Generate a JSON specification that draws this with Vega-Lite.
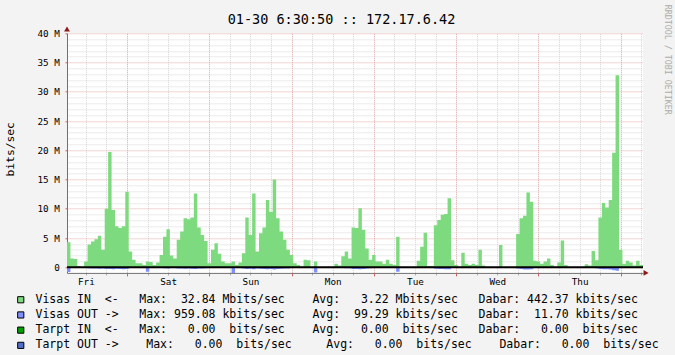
{
  "$schema": "https://vega.github.io/schema/vega-lite/v6.json",
  "width": 576,
  "height": 239.6,
  "autosize": {"type": "none"},
  "padding": {"left": 67, "top": 33.3, "right": 32, "bottom": 82.1},
  "background": "#F3F3F3",
  "view": {"fill": "#FFFFFF", "stroke": null},
  "config": {
    "font": "DejaVu Sans Mono",
    "axis": {"labelFont": "DejaVu Sans Mono", "labelFontSize": 9.3, "labelColor": "#000000", "titleFont": "DejaVu Sans Mono", "titleFontWeight": "normal", "titleColor": "#000000", "labelFlush": false}
  },
  "datasets": {
    "traffic": [
      {"t":6.5,"in":4.3,"out":-0.8},{"t":7.5,"in":1.5,"out":-0.02},{"t":8.5,"in":1.4,"out":-0.02},{"t":9.5,"in":0.2,"out":-0.02},
      {"t":10.5,"in":0.05,"out":-0.02},{"t":11.5,"in":1.0,"out":-0.02},{"t":12.5,"in":3.9,"out":-0.15},{"t":13.5,"in":4.4,"out":-0.2},
      {"t":14.5,"in":4.8,"out":-0.2},{"t":15.5,"in":5.4,"out":-0.25},{"t":16.5,"in":3.0,"out":-0.2},{"t":17.5,"in":10.0,"out":-0.3},
      {"t":18.5,"in":19.7,"out":-0.3},{"t":19.5,"in":9.8,"out":-0.35},{"t":20.5,"in":7.0,"out":-0.25},{"t":21.5,"in":6.7,"out":-0.3},
      {"t":22.5,"in":7.0,"out":-0.35},{"t":23.5,"in":12.9,"out":-0.3},{"t":24.5,"in":2.7,"out":-0.05},{"t":25.5,"in":1.3,"out":-0.05},
      {"t":26.5,"in":0.7,"out":-0.05},{"t":27.5,"in":0.7,"out":-0.05},{"t":28.5,"in":0.4,"out":-0.05},{"t":29.5,"in":1.0,"out":-0.75},
      {"t":30.5,"in":0.9,"out":-0.03},{"t":31.5,"in":0.4,"out":-0.03},{"t":32.5,"in":0.8,"out":-0.03},{"t":33.5,"in":2.1,"out":-0.03},
      {"t":34.5,"in":5.2,"out":-0.15},{"t":35.5,"in":6.5,"out":-0.2},{"t":36.5,"in":2.0,"out":-0.1},{"t":37.5,"in":1.5,"out":-0.1},
      {"t":38.5,"in":4.7,"out":-0.2},{"t":39.5,"in":6.1,"out":-0.2},{"t":40.5,"in":8.4,"out":-0.25},{"t":41.5,"in":8.2,"out":-0.2},
      {"t":42.5,"in":8.5,"out":-0.25},{"t":43.5,"in":12.6,"out":-0.3},{"t":44.5,"in":6.8,"out":-0.2},{"t":45.5,"in":5.5,"out":-0.2},
      {"t":46.5,"in":4.5,"out":-0.15},{"t":47.5,"in":0.7,"out":-0.03},{"t":48.5,"in":3.0,"out":-0.03},{"t":49.5,"in":4.1,"out":-0.03},
      {"t":50.5,"in":2.3,"out":-0.03},{"t":51.5,"in":1.0,"out":-0.03},{"t":52.5,"in":0.7,"out":-0.03},{"t":53.5,"in":0.7,"out":-0.03},
      {"t":54.5,"in":1.0,"out":-0.96},{"t":55.5,"in":0.4,"out":-0.03},{"t":56.5,"in":0.8,"out":-0.03},{"t":57.5,"in":2.4,"out":-0.2},
      {"t":58.5,"in":8.5,"out":-0.3},{"t":59.5,"in":5.5,"out":-0.25},{"t":60.5,"in":12.6,"out":-0.35},{"t":61.5,"in":2.7,"out":-0.2},
      {"t":62.5,"in":5.8,"out":-0.25},{"t":63.5,"in":6.8,"out":-0.3},{"t":64.5,"in":11.5,"out":-0.35},{"t":65.5,"in":9.5,"out":-0.3},
      {"t":66.5,"in":15.0,"out":-0.4},{"t":67.5,"in":8.4,"out":-0.3},{"t":68.5,"in":6.1,"out":-0.25},{"t":69.5,"in":4.7,"out":-0.2},
      {"t":70.5,"in":3.0,"out":-0.2},{"t":71.5,"in":2.1,"out":-0.04},{"t":72.5,"in":0.7,"out":-0.04},{"t":73.5,"in":0.4,"out":-0.04},
      {"t":74.5,"in":0.1,"out":-0.04},{"t":75.5,"in":1.3,"out":-0.04},{"t":76.5,"in":1.2,"out":-0.04},{"t":77.5,"in":0.1,"out":-0.04},
      {"t":78.5,"in":1.0,"out":-0.9},{"t":79.5,"in":0.05,"out":-0.02},{"t":80.5,"in":0,"out":-0.02},{"t":81.5,"in":0,"out":-0.02},
      {"t":82.5,"in":0.1,"out":-0.02},{"t":83.5,"in":0,"out":-0.02},{"t":84.5,"in":0.6,"out":-0.02},{"t":85.5,"in":0.3,"out":-0.02},
      {"t":86.5,"in":1.9,"out":-0.1},{"t":87.5,"in":2.7,"out":-0.15},{"t":88.5,"in":1.5,"out":-0.15},{"t":89.5,"in":6.8,"out":-0.3},
      {"t":90.5,"in":6.7,"out":-0.3},{"t":91.5,"in":10.1,"out":-0.35},{"t":92.5,"in":6.4,"out":-0.3},{"t":93.5,"in":3.2,"out":-0.2},
      {"t":94.5,"in":1.3,"out":-0.15},{"t":95.5,"in":2.1,"out":-0.04},{"t":96.5,"in":1.0,"out":-0.04},{"t":97.5,"in":1.0,"out":-0.04},
      {"t":98.5,"in":0.6,"out":-0.04},{"t":99.5,"in":1.3,"out":-0.04},{"t":100.5,"in":0.6,"out":-0.04},{"t":101.5,"in":0.4,"out":-0.04},
      {"t":102.5,"in":5.2,"out":-0.75},{"t":103.5,"in":0.05,"out":-0.03},{"t":104.5,"in":0,"out":-0.03},{"t":105.5,"in":0,"out":-0.03},
      {"t":106.5,"in":0,"out":-0.03},{"t":107.5,"in":0.1,"out":-0.03},{"t":108.5,"in":1.1,"out":-0.03},{"t":109.5,"in":3.5,"out":-0.03},
      {"t":110.5,"in":5.9,"out":-0.03},{"t":111.5,"in":0.2,"out":-0.03},{"t":112.5,"in":0.2,"out":-0.03},{"t":113.5,"in":7.2,"out":-0.25},
      {"t":114.5,"in":8.1,"out":-0.3},{"t":115.5,"in":9.0,"out":-0.3},{"t":116.5,"in":9.1,"out":-0.35},{"t":117.5,"in":11.8,"out":-0.35},
      {"t":118.5,"in":1.2,"out":-0.03},{"t":119.5,"in":0.4,"out":-0.03},{"t":120.5,"in":0.1,"out":-0.03},{"t":121.5,"in":2.5,"out":-0.03},
      {"t":122.5,"in":0.6,"out":-0.03},{"t":123.5,"in":0.4,"out":-0.03},{"t":124.5,"in":0.6,"out":-0.03},{"t":125.5,"in":0.4,"out":-0.03},
      {"t":126.5,"in":3.0,"out":-0.03},{"t":127.5,"in":0.3,"out":-0.03},{"t":128.5,"in":0,"out":-0.03},{"t":129.5,"in":0,"out":-0.03},
      {"t":130.5,"in":0,"out":-0.03},{"t":131.5,"in":0,"out":-0.03},{"t":132.5,"in":3.8,"out":-0.03},{"t":133.5,"in":0.05,"out":-0.03},
      {"t":134.5,"in":0,"out":-0.03},{"t":135.5,"in":0,"out":-0.03},{"t":136.5,"in":0,"out":-0.03},{"t":137.5,"in":5.7,"out":-0.2},
      {"t":138.5,"in":8.4,"out":-0.3},{"t":139.5,"in":8.8,"out":-0.4},{"t":140.5,"in":12.8,"out":-0.4},{"t":141.5,"in":11.2,"out":-0.35},
      {"t":142.5,"in":1.1,"out":-0.03},{"t":143.5,"in":1.0,"out":-0.03},{"t":144.5,"in":0.6,"out":-0.03},{"t":145.5,"in":1.0,"out":-0.03},
      {"t":146.5,"in":1.5,"out":-0.03},{"t":147.5,"in":0.4,"out":-0.03},{"t":148.5,"in":0.1,"out":-0.03},{"t":149.5,"in":0.8,"out":-0.03},
      {"t":150.5,"in":4.6,"out":-0.03},{"t":151.5,"in":0.4,"out":-0.03},{"t":152.5,"in":0,"out":-0.03},{"t":153.5,"in":0,"out":-0.03},
      {"t":154.5,"in":0,"out":-0.03},{"t":155.5,"in":0,"out":-0.03},{"t":156.5,"in":0,"out":-0.03},{"t":157.5,"in":0.5,"out":-0.03},
      {"t":158.5,"in":0.3,"out":-0.03},{"t":159.5,"in":2.8,"out":-0.03},{"t":160.5,"in":1.2,"out":-0.15},{"t":161.5,"in":8.5,"out":-0.3},
      {"t":162.5,"in":11.0,"out":-0.35},{"t":163.5,"in":10.2,"out":-0.35},{"t":164.5,"in":11.5,"out":-0.4},{"t":165.5,"in":19.6,"out":-0.5},
      {"t":166.5,"in":32.84,"out":-0.6},{"t":167.5,"in":3.0,"out":-0.03},{"t":168.5,"in":0.6,"out":-0.03},{"t":169.5,"in":1.1,"out":-0.03},
      {"t":170.5,"in":0.8,"out":-0.03},{"t":171.5,"in":0.3,"out":-0.03},{"t":172.5,"in":1.1,"out":-0.03},{"t":173.5,"in":0.4,"out":-0.03},
      {"t":174.5,"in":0.4,"out":-0.03}
    ]
  },
  "layer": [
    {
      "data": {"name": "traffic"},
      "mark": {"type": "area", "interpolate": "step-after", "opacity": 1},
      "encoding": {
        "x": {"field": "t", "type": "quantitative", "scale": {"domain": [6.5, 174.5], "nice": false, "zero": false},
          "axis": {"orient": "bottom", "values": [12,18,24,30,36,42,48,54,60,66,72,78,84,90,96,102,108,114,120,126,132,138,144,150,156,162,168,174],
            "labels": false, "grid": true, "gridColor": "#D6D6D6", "gridDash": [1, 1], "ticks": true, "tickColor": "#A8A8A8", "tickSize": 2,
            "domain": true, "domainColor": "#707070", "title": null}},
        "y": {"field": "in", "type": "quantitative", "scale": {"domain": [-0.96, 40], "nice": false, "zero": false},
          "axis": {"orient": "left", "values": [1,2,3,4,6,7,8,9,11,12,13,14,16,17,18,19,21,22,23,24,26,27,28,29,31,32,33,34,36,37,38,39],
            "labels": false, "ticks": false, "grid": true, "gridColor": "#D6D6D6", "gridDash": [1, 1], "domain": true, "domainColor": "#707070", "title": null}},
        "color": {"datum": "Visas IN", "type": "nominal",
          "scale": {"domain": ["Visas IN", "Visas OUT", "Tarpt IN", "Tarpt OUT"], "range": ["#7EDA7E", "#7F8FFF", "#00A000", "#5070C8"]},
          "legend": {"orient": "none", "legendX": -52, "legendY": 260.7, "title": null, "padding": 0,
            "symbolType": "square", "symbolSize": 38, "symbolStrokeColor": "#000000", "symbolStrokeWidth": 1, "symbolOpacity": 1,
            "labelFont": "DejaVu Sans Mono", "labelFontSize": 11.5, "labelColor": "#000000", "labelLimit": 1000, "labelOffset": 9, "rowPadding": 2.2,
            "labelExpr": "datum.label == 'Visas IN' ? 'Visas\u00a0IN\u00a0\u00a0<-\u00a0\u00a0\u00a0Max:\u00a0\u00a032.84\u00a0Mbits/sec\u00a0\u00a0\u00a0\u00a0Avg:\u00a0\u00a0\u00a03.22\u00a0Mbits/sec\u00a0\u00a0\u00a0Dabar:\u00a0442.37\u00a0kbits/sec' : datum.label == 'Visas OUT' ? 'Visas\u00a0OUT\u00a0->\u00a0\u00a0\u00a0Max:\u00a0959.08\u00a0kbits/sec\u00a0\u00a0\u00a0\u00a0Avg:\u00a0\u00a099.29\u00a0kbits/sec\u00a0\u00a0\u00a0Dabar:\u00a0\u00a011.70\u00a0kbits/sec' : datum.label == 'Tarpt IN' ? 'Tarpt\u00a0IN\u00a0\u00a0<-\u00a0\u00a0\u00a0Max:\u00a0\u00a0\u00a00.00\u00a0\u00a0bits/sec\u00a0\u00a0\u00a0\u00a0Avg:\u00a0\u00a0\u00a00.00\u00a0\u00a0bits/sec\u00a0\u00a0\u00a0Dabar:\u00a0\u00a0\u00a00.00\u00a0\u00a0bits/sec' : 'Tarpt\u00a0OUT\u00a0->\u00a0\u00a0\u00a0\u00a0Max:\u00a0\u00a0\u00a00.00\u00a0\u00a0bits/sec\u00a0\u00a0\u00a0\u00a0\u00a0Avg:\u00a0\u00a0\u00a00.00\u00a0\u00a0bits/sec\u00a0\u00a0\u00a0\u00a0Dabar:\u00a0\u00a0\u00a00.00\u00a0\u00a0bits/sec'",
            "encode": {"symbols": {"update": {"stroke": {"value": "#000000"}, "strokeWidth": {"value": 1}, "opacity": {"value": 1}}}}}}
      }
    },
    {
      "data": {"name": "traffic"},
      "mark": {"type": "area", "interpolate": "step-after", "opacity": 1},
      "encoding": {
        "x": {"field": "t", "type": "quantitative",
          "axis": {"orient": "bottom", "values": [24,48,72,96,120,144,168], "labels": false, "grid": true, "gridColor": "#E8B4B4", "gridDash": [1, 1],
            "ticks": true, "tickColor": "#C86464", "tickSize": 3, "domain": false, "title": null}},
        "y": {"field": "out", "type": "quantitative",
          "axis": {"orient": "left", "values": [0,5,10,15,20,25,30,35,40], "grid": true, "gridColor": "#E4A8A8", "gridDash": [1, 1],
            "ticks": true, "tickColor": "#C86464", "tickSize": 2, "labelPadding": 5.7, "domain": false,
            "labelExpr": "datum.value == 0 ? '0\u00a0\u00a0' : datum.value + ' M'", "labelFontSize": 9.3,
            "title": "bits/sec", "titleFontSize": 11.3, "titleAngle": 270, "titleX": -56.5, "titleY": 115.5, "titleBaseline": "middle", "titleAlign": "center"}},
        "color": {"datum": "Visas OUT", "type": "nominal"}
      }
    },
    {
      "data": {"values": [{}]},
      "mark": {"type": "rule", "color": "#000000", "strokeWidth": 2},
      "encoding": {
        "y": {"datum": 0, "type": "quantitative",
          "axis": {"orient": "right", "title": "RRDTOOL / TOBI OETIKER", "titleAngle": 90, "titleX": 23, "titleY": -29,
            "titleAlign": "left", "titleBaseline": "middle", "titleFontSize": 8.3, "titleColor": "#ABABAB",
            "labels": false, "ticks": false, "domain": false, "grid": false}}
      }
    },
    {
      "data": {"values": [{}]},
      "mark": {"type": "point", "shape": "triangle-up", "filled": true, "color": "#8B1A1A", "size": 34, "opacity": 1},
      "encoding": {
        "x": {"datum": 6.5, "type": "quantitative",
          "axis": {"orient": "bottom", "values": [12,36,60,84,108,132,156], "grid": false, "ticks": false, "domain": false, "title": null,
            "labelPadding": 5, "labelFontSize": 9.3, "labelBaseline": "top",
            "labelExpr": "['Fri','Sat','Sun','Mon','Tue','Wed','Thu'][round((datum.value - 12) / 24)]"}},
        "y": {"datum": 40.73, "type": "quantitative", "axis": null}
      }
    },
    {
      "data": {"values": [{}]},
      "mark": {"type": "point", "shape": "triangle-right", "filled": true, "color": "#8B1A1A", "size": 34, "opacity": 1},
      "encoding": {
        "x": {"datum": 175.4, "type": "quantitative",
          "axis": {"orient": "top", "title": "01-30 6:30:50 :: 172.17.6.42", "titleFontSize": 13.5, "titleX": 274, "titleY": -9.6,
            "titleBaseline": "alphabetic", "titleAlign": "center", "titleAngle": 0,
            "labels": false, "ticks": false, "domain": false, "grid": false}},
        "y": {"datum": -0.96, "type": "quantitative", "axis": null}
      }
    }
  ],
  "resolve": {"axis": {"x": "independent", "y": "independent"}}
}
